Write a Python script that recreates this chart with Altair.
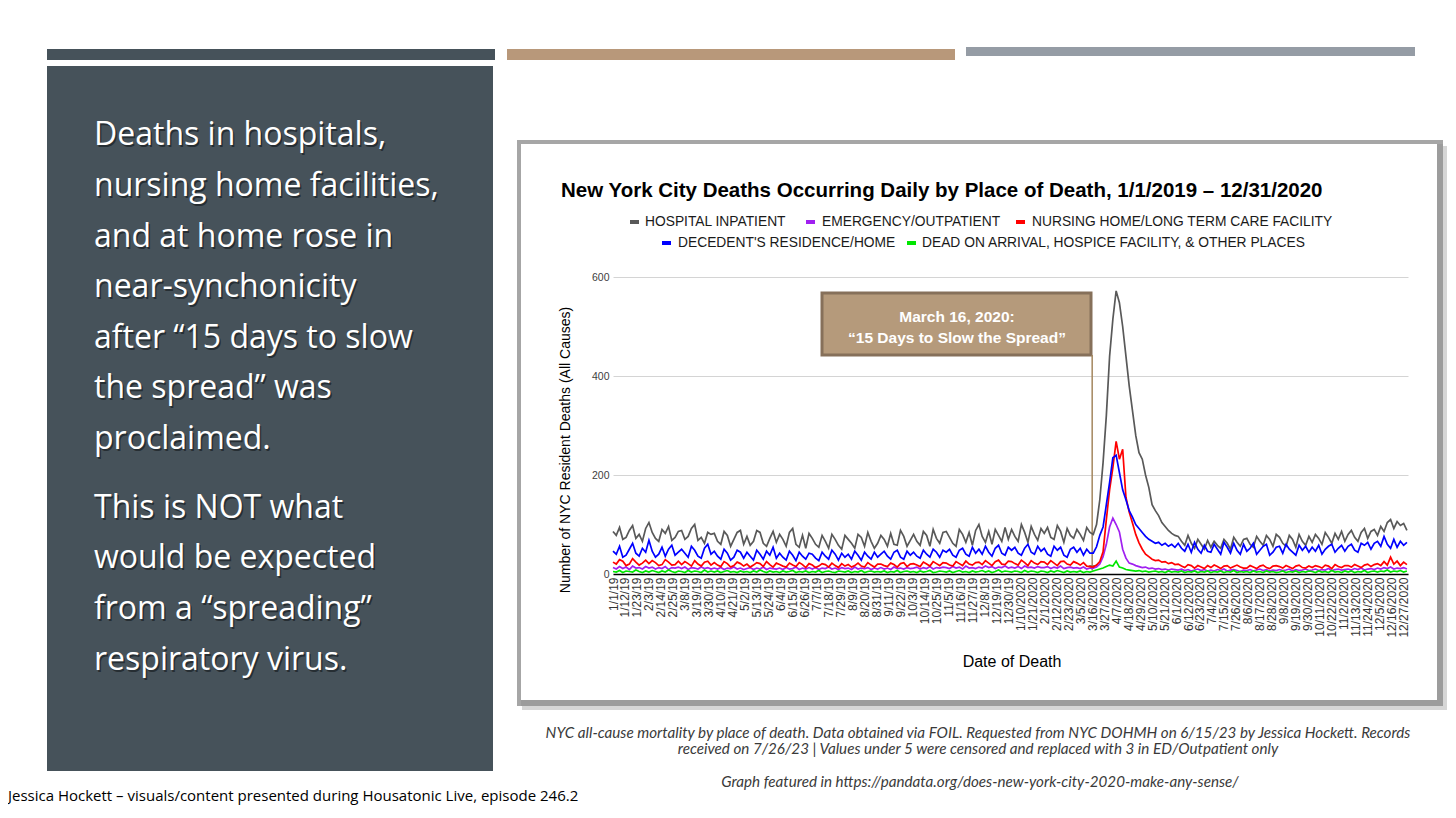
import altair as alt
import pandas as pd

# ---------------- data ----------------
series_names = [
    "HOSPITAL INPATIENT",
    "EMERGENCY/OUTPATIENT",
    "NURSING HOME/LONG TERM CARE FACILITY",
    "DECEDENT'S RESIDENCE/HOME",
    "DEAD ON ARRIVAL, HOSPICE FACILITY, & OTHER PLACES",
]
series_colors = ["#595959", "#a020f0", "#ff0000", "#0000ff", "#00e600"]

start_date = "2019-01-01"
step_days = 3  # one value every 3 days, 1/1/2019 - 12/30/2020

hospital = (
    [86, 78, 94, 70, 74, 88, 98, 72, 80, 66, 92]
    + [104, 84, 72, 66, 90, 82, 96, 68, 74, 86]
    + [88, 70, 76, 92, 100, 68, 74, 62, 84, 80]
    + [82, 66, 60, 86, 78, 56, 70, 84, 88, 60]
    + [76, 58, 66, 88, 84, 62, 56, 72, 86, 64]
    + [80, 70, 56, 84, 92, 60, 54, 78, 52, 82]
    + [72, 60, 54, 78, 66, 52, 80, 70, 58, 50, 78]
    + [70, 62, 52, 80, 74, 56, 84, 66, 52, 62]
    + [78, 70, 56, 82, 60, 58, 88, 76, 56, 68]
    + [80, 66, 58, 86, 78, 56, 90, 72, 62, 84]
    + [86, 74, 62, 56, 90, 80, 64, 84, 58, 88]
    + [100, 76, 64, 86, 60, 90, 78, 66, 94, 70]
    + [90, 76, 66, 100, 84, 64, 96, 80, 68, 92]
    + [82, 94, 74, 70, 98, 86, 64, 92, 78, 72]
    + [90, 80, 68, 94, 84]
    + [80, 100, 150, 225, 320, 440, 515, 572, 548, 500, 440, 380, 330,
       280, 245, 232, 200, 175, 140, 128, 118, 104, 96, 88, 82, 78]
    + [76, 66, 58, 78, 62, 52, 70, 60, 50, 68]
    + [54, 66, 58, 52, 70, 62, 50, 74, 64, 56, 70]
    + [72, 60, 54, 76, 66, 58, 78, 70, 56, 80]
    + [74, 62, 56, 78, 70, 54, 80, 66, 58, 76]
    + [64, 80, 72, 60, 84, 74, 62, 82, 70, 86, 66]
    + [80, 88, 74, 66, 84, 92, 72, 86, 90]
    + [78, 96, 86, 104, 110, 92, 106, 98, 102, 88]
)

emergency = (
    [13, 10, 15, 11, 14, 9, 16, 12, 13, 10, 15]
    + [12, 14, 10, 13, 11, 15, 9, 13, 12, 14]
    + [11, 14, 9, 13, 12, 10, 14, 11, 13, 10]
    + [12, 10, 13, 9, 12, 11, 14, 10, 12, 9]
    + [11, 13, 9, 12, 10, 14, 9, 12, 11, 10]
    + [12, 9, 13, 10, 11, 14, 9, 12, 10, 13]
    + [10, 13, 9, 12, 11, 14, 10, 12, 9, 13, 11]
    + [12, 9, 14, 10, 12, 11, 13, 9, 12, 10]
    + [13, 10, 12, 9, 14, 11, 12, 10, 13, 11]
    + [12, 14, 10, 13, 11, 15, 10, 13, 12, 14]
    + [13, 11, 15, 12, 14, 10, 16, 12, 13, 11]
    + [14, 12, 16, 13, 15, 11, 14, 13, 16, 12]
    + [14, 12, 15, 11, 16, 13, 14, 12, 15, 13]
    + [13, 15, 11, 14, 12, 16, 11, 13, 14, 12]
    + [13, 11, 14, 10, 12]
    + [12, 14, 20, 35, 60, 95, 113, 100, 85, 50, 32, 22, 20,
       17, 15, 13, 14, 11, 12, 10, 11, 9, 10, 8, 10, 9]
    + [8, 10, 7, 9, 6, 8, 10, 7, 9, 6]
    + [8, 6, 9, 7, 10, 6, 8, 9, 7, 5, 8]
    + [7, 9, 6, 8, 10, 7, 9, 6, 8, 7]
    + [9, 7, 8, 10, 6, 9, 7, 8, 10, 7]
    + [8, 10, 7, 9, 8, 11, 7, 9, 10, 8, 9]
    + [10, 8, 11, 9, 12, 8, 10, 11, 9]
    + [12, 10, 13, 11, 14, 10, 12, 11, 13, 10]
)

nursing = (
    [24, 20, 29, 26, 17, 20, 31, 24, 18, 22, 28]
    + [21, 27, 23, 17, 19, 29, 24, 18, 19, 26]
    + [19, 25, 21, 16, 27, 20, 16, 24, 26, 18]
    + [23, 18, 15, 25, 21, 14, 17, 24, 21, 16]
    + [20, 14, 18, 23, 21, 15, 25, 19, 14, 22]
    + [19, 16, 14, 22, 18, 15, 23, 19, 13, 21]
    + [18, 13, 16, 21, 19, 14, 22, 17, 13, 21, 16]
    + [19, 14, 17, 22, 16, 14, 23, 18, 14, 20]
    + [20, 17, 15, 22, 19, 14, 21, 23, 15, 20]
    + [21, 18, 15, 24, 20, 16, 25, 21, 17, 23]
    + [22, 18, 16, 25, 21, 17, 26, 20, 18, 23]
    + [24, 19, 27, 22, 17, 25, 28, 20, 19, 26]
    + [25, 21, 18, 28, 23, 17, 27, 22, 19, 25]
    + [24, 19, 27, 22, 17, 25, 26, 20, 18, 25]
    + [22, 18, 23, 16, 15]
    + [14, 18, 25, 45, 110, 170, 215, 268, 232, 252, 155, 125, 103,
       80, 63, 50, 40, 35, 30, 27, 28, 24, 25, 21, 23, 19]
    + [20, 16, 13, 19, 17, 12, 17, 14, 11, 17]
    + [13, 18, 15, 11, 16, 17, 12, 15, 18, 14, 12]
    + [12, 17, 14, 11, 16, 18, 13, 11, 16, 17]
    + [15, 12, 17, 14, 11, 16, 18, 13, 12, 16]
    + [13, 17, 15, 12, 18, 16, 11, 19, 15, 13, 17]
    + [17, 14, 19, 16, 13, 18, 20, 15, 19]
    + [21, 17, 25, 18, 34, 20, 26, 17, 24, 19]
)

home = (
    [46, 40, 56, 34, 38, 50, 62, 42, 36, 52, 44]
    + [68, 46, 34, 40, 54, 36, 50, 58, 38, 44]
    + [50, 42, 34, 56, 48, 36, 32, 52, 60, 40]
    + [46, 36, 30, 50, 42, 28, 34, 48, 44, 32]
    + [44, 36, 28, 48, 40, 30, 46, 38, 54, 32]
    + [42, 34, 28, 46, 38, 27, 44, 36, 30, 42]
    + [40, 32, 27, 44, 36, 30, 48, 40, 28, 42, 34]
    + [40, 30, 46, 38, 28, 44, 36, 30, 44, 34]
    + [40, 46, 36, 30, 44, 48, 34, 30, 46, 38]
    + [44, 36, 32, 48, 40, 34, 50, 44, 34, 48]
    + [44, 50, 38, 34, 48, 52, 40, 36, 54, 42]
    + [50, 40, 56, 44, 36, 52, 58, 42, 38, 54]
    + [48, 54, 42, 38, 52, 60, 44, 40, 56, 46]
    + [52, 40, 36, 56, 48, 54, 38, 34, 50, 54]
    + [44, 52, 38, 50, 42]
    + [42, 55, 78, 95, 140, 185, 235, 240, 205, 170, 150, 128, 115,
       100, 92, 84, 76, 70, 66, 62, 64, 58, 62, 56, 60, 54]
    + [62, 52, 46, 60, 44, 64, 50, 42, 58, 46]
    + [44, 60, 50, 40, 64, 54, 42, 62, 48, 40, 60]
    + [46, 52, 62, 40, 48, 56, 60, 38, 44, 54]
    + [56, 42, 60, 50, 44, 38, 58, 48, 56, 44]
    + [54, 46, 58, 40, 50, 56, 60, 44, 52, 58, 46]
    + [56, 60, 48, 44, 62, 58, 64, 50, 62]
    + [66, 56, 76, 60, 52, 70, 54, 66, 58, 64]
)

other = (
    [5, 4, 7, 3, 6, 5, 4, 8, 5, 3, 6]
    + [4, 7, 5, 3, 6, 4, 8, 5, 3, 6]
    + [5, 3, 7, 4, 6, 5, 3, 8, 4, 6]
    + [4, 6, 3, 5, 7, 4, 5, 3, 6, 4]
    + [5, 3, 6, 4, 8, 5, 3, 6, 4, 5]
    + [3, 6, 4, 5, 7, 3, 5, 4, 6, 3]
    + [5, 4, 7, 3, 5, 6, 4, 3, 6, 5, 4]
    + [6, 3, 5, 4, 7, 3, 5, 6, 4, 5]
    + [4, 6, 3, 5, 4, 7, 3, 5, 6, 4]
    + [5, 3, 6, 4, 5, 7, 3, 4, 6, 5]
    + [4, 6, 3, 5, 7, 4, 5, 3, 6, 4]
    + [5, 7, 4, 6, 3, 5, 8, 4, 6, 5]
    + [4, 6, 5, 3, 7, 4, 6, 5, 3, 6]
    + [5, 3, 6, 4, 7, 5, 3, 6, 4, 5]
    + [4, 6, 3, 5, 4]
    + [6, 8, 10, 12, 15, 18, 16, 26, 14, 12, 9, 8, 7,
       6, 7, 5, 6, 4, 5, 6, 4, 5, 3, 6, 4, 5]
    + [4, 6, 3, 5, 4, 6, 3, 5, 4, 6]
    + [3, 5, 4, 6, 3, 5, 4, 7, 3, 5, 4]
    + [5, 3, 6, 4, 5, 3, 6, 4, 5, 3]
    + [4, 6, 3, 5, 4, 6, 3, 5, 4, 6]
    + [5, 3, 6, 4, 5, 3, 7, 4, 5, 3, 6]
    + [4, 6, 3, 5, 4, 7, 3, 5, 6]
    + [4, 6, 5, 8, 4, 6, 5, 7, 4, 6]
)

y_ticks = [0, 200, 400, 600]
x_tick_start = "2019-01-01"
x_tick_end = "2020-12-31"
x_tick_step_days = 11

annotation_date = "2020-03-16"
annotation_lines = ["March 16, 2020:", "\u201c15 Days to Slow the Spread\u201d"]

chart_title = "New York City Deaths Occurring Daily by Place of Death, 1/1/2019 \u2013 12/31/2020"
y_title = "Number of NYC Resident Deaths (All Causes)"
x_title = "Date of Death"

left_lines_1 = [
    "Deaths in hospitals,",
    "nursing home facilities,",
    "and at home rose in",
    "near-synchonicity",
    "after \u201c15 days to slow",
    "the spread\u201d was",
    "proclaimed.",
]
left_lines_2 = [
    "This is NOT what",
    "would be expected",
    "from a \u201cspreading\u201d",
    "respiratory virus.",
]
caption_lines = [
    "NYC all-cause mortality by place of death. Data obtained via FOIL. Requested from NYC DOHMH on 6/15/23 by Jessica Hockett. Records",
    "received on 7/26/23 | Values under 5 were censored and  replaced with 3 in ED/Outpatient only",
]
caption_link = "Graph featured in https://pandata.org/does-new-york-city-2020-make-any-sense/"
footer = "Jessica Hockett \u2013 visuals/content presented during Housatonic Live, episode 246.2"

# ---------------- table ----------------
all_series = [hospital, emergency, nursing, home, other]
n = len(hospital)
dates = pd.date_range(start_date, periods=n, freq=f"{step_days}D")
rows = []
for name, vals in zip(series_names, all_series):
    for d, v in zip(dates, vals):
        rows.append({"date": d, "series": name, "deaths": v})
df = pd.DataFrame(rows)

tick_dates = pd.date_range(x_tick_start, x_tick_end, freq=f"{x_tick_step_days}D")
tick_values = [alt.DateTime(year=d.year, month=d.month, date=d.day) for d in tick_dates]

# ---------------- layout ----------------
PAD_L, PAD_T = 605, 269
W, H = 795, 297
PX0, PY0 = 8 + PAD_L, 8 + PAD_T  # page coords of plot origin


def px(x):
    return x - PX0


def py(y):
    return y - PY0


dummy = pd.DataFrame({"k": [0]})


def rect(x1, y1, x2, y2, color, **kw):
    return alt.Chart(dummy).mark_rect(color=color, **kw).encode(
        x=alt.value(px(x1)), x2=alt.value(px(x2)),
        y=alt.value(py(y1)), y2=alt.value(py(y2)),
    )


def text(s, x, y, **kw):
    return alt.Chart(dummy).mark_text(text=s, **kw).encode(
        x=alt.value(px(x)), y=alt.value(py(y))
    )


xscale = alt.Scale(domain=[alt.DateTime(year=2019, month=1, date=1),
                           alt.DateTime(year=2020, month=12, date=31)])
yscale = alt.Scale(domain=[0, 600], nice=False)
xaxis = alt.Axis(values=tick_values, labelAngle=270, labelAlign="right",
                 labelBaseline="middle", labelPadding=3, labelFontSize=12,
                 labelFont="Liberation Sans", labelColor="#333333",
                 labelOverlap=False, labelSeparation=0, labelFlush=False,
                 labelBound=False, ticks=False, grid=False,
                 domainColor="#000000", domainWidth=1.5, title=None,
                 labelExpr="year(datum.value) == 2019 ? timeFormat(datum.value, '%-m/%-d/%y') : timeFormat(datum.value, '%-m/%-d/%Y')")
yaxis = alt.Axis(values=y_ticks, labelFontSize=10.5, labelFont="Liberation Sans",
                 labelColor="#404040", labelPadding=4, ticks=False, domain=False,
                 grid=True, gridColor="#d4d4d4", gridWidth=1, title=None)

layers = []

# top bars + left panel
layers.append(rect(47, 49, 495, 60, "#46525a"))
layers.append(rect(507, 49, 955, 60, "#b8987a"))
layers.append(rect(966, 47, 1415, 56, "#959ca5"))
layers.append(rect(47, 66, 493, 771, "#46525a"))

LEFT_FONT = "Open Sans"
base1 = [145, 196, 247, 297, 348, 398, 449]
base2 = [518, 568, 619, 670]
for lines, bases in ((left_lines_1, base1), (left_lines_2, base2)):
    for s, b in zip(lines, bases):
        layers.append(text(s, 95.5, b + 1.5, align="left", baseline="alphabetic",
                           font=LEFT_FONT, fontSize=32, color="#262e33"))
        layers.append(text(s, 94, b, align="left", baseline="alphabetic",
                           font=LEFT_FONT, fontSize=32, color="#ffffff"))

# chart frame (no fill so grid stays visible)
layers.append(rect(522, 706, 1447, 710, "#d6d6d6"))
layers.append(rect(1443, 146, 1447, 710, "#d6d6d6"))
layers.append(rect(517, 700, 1443, 706, "#9c9c9c"))
layers.append(rect(1437, 140, 1443, 706, "#9c9c9c"))
layers.append(rect(517, 140, 1443, 144, "#a6a6a6"))
layers.append(rect(517, 140, 521, 706, "#a6a6a6"))

# title
layers.append(text(chart_title, 561, 197, align="left", baseline="alphabetic",
                   font="Liberation Sans", fontWeight="bold", fontSize=20.5,
                   color="#000000"))

# legend
leg_pos = [(630, 645, 222), (806, 822, 222), (1016, 1032, 222),
           (662, 678, 243), (907, 922, 243)]
for name, col, (mx, tx, ty) in zip(series_names, series_colors, leg_pos):
    layers.append(rect(mx, ty - 2, mx + 9, ty + 2, col))
    layers.append(text(name, tx, ty, align="left", baseline="middle",
                       font="Liberation Sans", fontSize=13.8, color="#1a1a1a"))

# axis titles
layers.append(text(y_title, 566, 450, align="center", baseline="middle", angle=270,
                   font="Liberation Sans", fontSize=14, color="#000000"))
layers.append(text(x_title, 1012, 662, align="center", baseline="middle",
                   font="Liberation Sans", fontSize=16, color="#000000"))

# annotation box
layers.append(rect(822, 293, 1091, 355, "#b59a7b", stroke="#86705a", strokeWidth=3))
layers.append(text(annotation_lines[0], 957, 317, align="center", baseline="middle",
                   font="Liberation Sans", fontWeight="bold", fontSize=15.5, color="#ffffff"))
layers.append(text(annotation_lines[1], 957, 338, align="center", baseline="middle",
                   font="Liberation Sans", fontWeight="bold", fontSize=15.5, color="#ffffff"))

ann_df = pd.DataFrame({"date": [pd.Timestamp(annotation_date)]})
layers.append(alt.Chart(ann_df).mark_rule(color="#a4875f", strokeWidth=1.5).encode(
    x=alt.X("date:T", scale=xscale, axis=xaxis), y=alt.value(py(355)), y2=alt.value(py(566))))
layers.append(alt.Chart(ann_df).mark_point(shape="triangle-down", filled=True, size=45,
                                           color="#8f7b66", opacity=1).encode(
    x=alt.X("date:T", scale=xscale, axis=xaxis), y=alt.value(py(568))))

# captions
CAP = dict(align="center", baseline="middle", font="Lato", fontStyle="italic",
           fontSize=15.2, color="#3a3a3a")
layers.append(text(caption_lines[0], 978, 733, **CAP))
layers.append(text(caption_lines[1], 978, 749, **CAP))
layers.append(text(caption_link, 980, 782, **CAP))
layers.append(text(footer, 8, 801, align="left", baseline="alphabetic",
                   font="Open Sans", fontSize=15, color="#000000"))

# data lines
color = alt.Color("series:N", scale=alt.Scale(domain=series_names, range=series_colors),
                  legend=None)
for name in series_names:
    layers.append(
        alt.Chart(df).transform_filter(alt.datum.series == name)
        .mark_line(strokeWidth=1.7)
        .encode(x=alt.X("date:T", scale=xscale, axis=xaxis),
                y=alt.Y("deaths:Q", scale=yscale, axis=yaxis),
                color=color)
    )

chart = alt.layer(*layers).properties(
    width=W, height=H,
    autosize=alt.AutoSizeParams(type="none"),
    padding={"left": PAD_L, "top": PAD_T, "right": 1440 - PAD_L - W,
             "bottom": 798 - PAD_T - H},
    background="#ffffff",
).configure_view(stroke=None).configure_axisX(labelOverlap=False)

chart.save("out.html", embed_options={"renderer": "svg", "actions": False})
